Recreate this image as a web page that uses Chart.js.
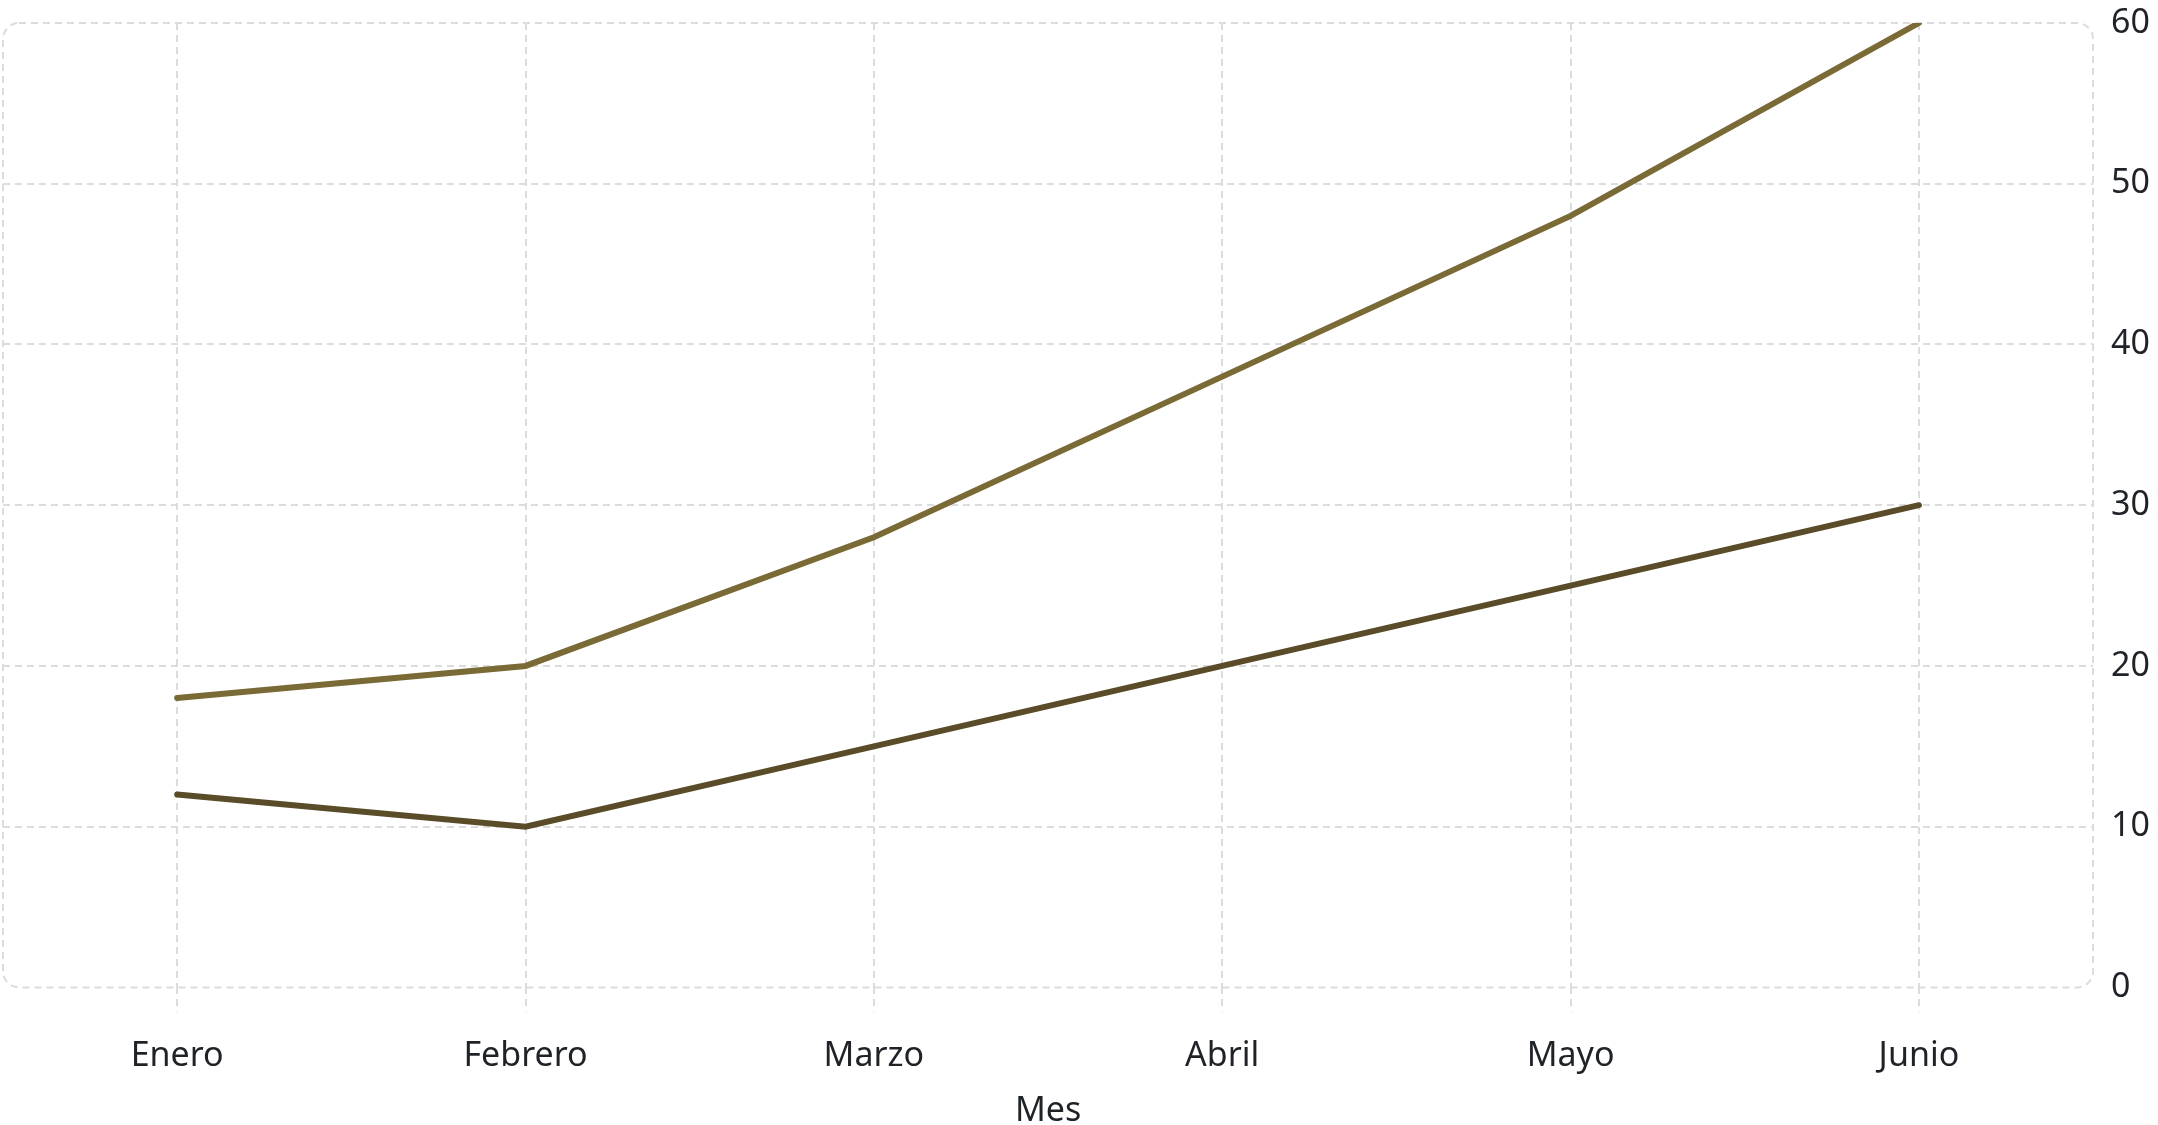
<!DOCTYPE html>
<html lang="es">
  <head>
    <meta charset="UTF-8" />
    <title>Mes</title>
    <script src="https://cdn.jsdelivr.net/npm/chart.js"></script>
    <style>
      html, body { margin: 0; padding: 0; background: #fff; }
      #wrap { width: 2158px; height: 1125px; }
    </style>
  </head>
  <body>
    <div id="wrap"><canvas id="grafico"></canvas></div>
    <script>
      const meses = ["Enero", "Febrero", "Marzo", "Abril", "Mayo", "Junio"];
      const serieAlta = [18, 20, 28, 38, 48, 60];
      const serieBaja = [12, 10, 15, 20, 25, 30];

      const gridColor = "#dcdcdc";
      const textColor = "#1f2328";
      const dash = [7, 5];

      // dashed rounded frame around the plot area
      const marco = {
        id: "marco",
        beforeDatasetsDraw(chart) {
          const { ctx, chartArea: a } = chart;
          ctx.save();
          ctx.strokeStyle = gridColor;
          ctx.lineWidth = 2;
          ctx.setLineDash(dash);
          ctx.beginPath();
          ctx.roundRect(a.left, a.top, a.right - a.left, a.bottom - a.top, 16);
          ctx.stroke();
          ctx.restore();
        },
      };

      const ctx = document.getElementById("grafico");
      new Chart(ctx, {
        type: "line",
        data: {
          labels: meses,
          datasets: [
            {
              label: "Serie A",
              data: serieAlta,
              borderColor: "#7a6a35",
              borderWidth: 6,
              borderCapStyle: "round",
              pointRadius: 0,
              tension: 0,
            },
            {
              label: "Serie B",
              data: serieBaja,
              borderColor: "#5a4c28",
              borderWidth: 6,
              borderCapStyle: "round",
              pointRadius: 0,
              tension: 0,
            },
          ],
        },
        options: {
          responsive: true,
          maintainAspectRatio: false,
          animation: false,
          layout: { padding: { top: 23, left: 3, right: -10, bottom: -7 } },
          plugins: {
            legend: { display: false },
            tooltip: { enabled: false },
          },
          scales: {
            x: {
              offset: true,
              grid: {
                offset: false,
                color: gridColor,
                lineWidth: 2,
                tickLength: 24,
                tickBorderDash: dash,
              },
              border: { display: false, dash: dash },
              ticks: {
                color: textColor,
                padding: 25,
                font: { family: "Noto Sans", size: 34 },
              },
              title: {
                display: true,
                text: "Mes",
                color: textColor,
                padding: { top: -11, bottom: 0 },
                font: { family: "Noto Sans", size: 34 },
              },
            },
            y: {
              position: "right",
              min: 0,
              max: 60,
              afterFit: (s) => {
                s.paddingTop = 0;
                s.paddingBottom = 0;
              },
              grid: {
                drawTicks: false,
                lineWidth: 2,
                color: (c) =>
                  c.index === 0 || c.tick.value === 60 ? "transparent" : gridColor,
              },
              border: { display: false, dash: dash },
              ticks: {
                stepSize: 10,
                color: textColor,
                padding: 18,
                font: { family: "Noto Sans", size: 34 },
              },
            },
          },
        },
        plugins: [marco],
      });
    </script>
  </body>
</html>
